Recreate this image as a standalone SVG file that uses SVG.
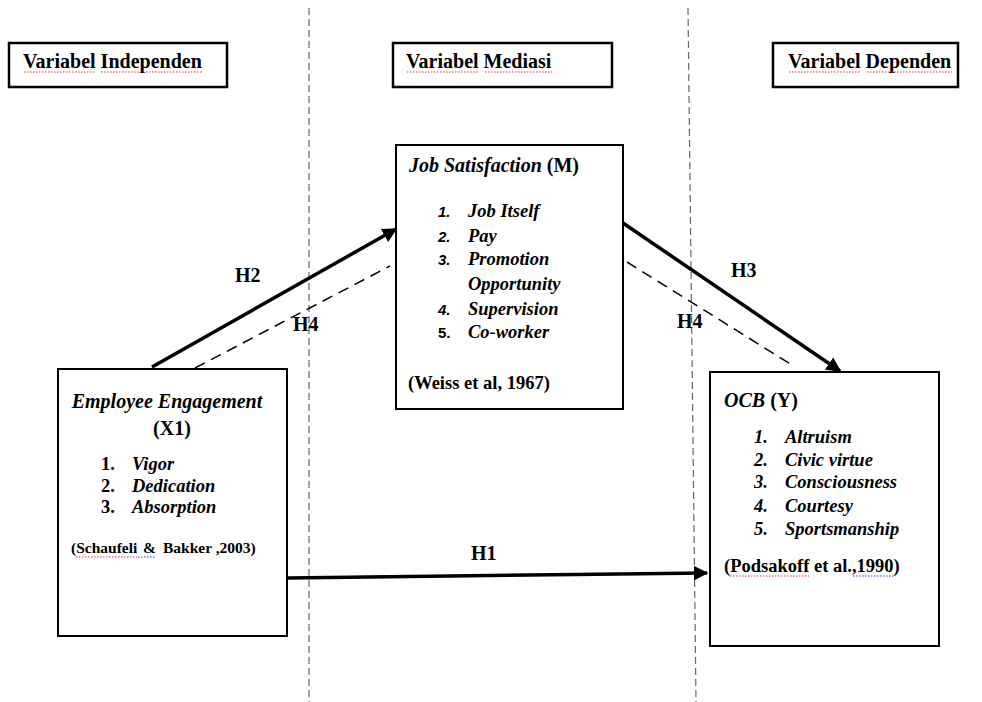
<svg xmlns="http://www.w3.org/2000/svg" width="982" height="702" viewBox="0 0 982 702">
<style>
.t{font-family:"Liberation Serif","Times New Roman",serif;fill:#000;font-weight:bold}
.hd{font-size:20px}
.bd{font-size:18.5px}
.it{font-style:italic}
.box{fill:#fff;stroke:#000;stroke-width:2}
.lbl{fill:#fff;stroke:#000;stroke-width:2.5}
.sep{stroke:#666;stroke-width:1.2;stroke-dasharray:7 4;fill:none}
.solid{stroke:#000;stroke-width:3.5;fill:none}
.dash{stroke:#000;stroke-width:1.5;stroke-dasharray:11 7;fill:none}
.sq{stroke-width:1;stroke-dasharray:1.5 1.5;fill:none}
.red{stroke:#d33}
.blue{stroke:#33c}
.sn{font-family:"Liberation Sans",Arial,sans-serif;font-weight:bold;font-size:15px}
</style>
<defs>
<marker id="ah" viewBox="0 0 10 10" refX="9" refY="5" markerWidth="4.2" markerHeight="4.2" orient="auto" markerUnits="strokeWidth">
<path d="M0,0 L10,5 L0,10 Z" fill="#000"/>
</marker>
</defs>
<rect width="982" height="702" fill="#fff"/>

<g id="separators">
<line class="sep" x1="309" y1="8" x2="309" y2="702"/>
<line class="sep" x1="688" y1="8" x2="696" y2="702"/>
</g>

<g id="label-independen">
<rect class="lbl" x="9" y="43" width="218" height="44"/>
<text class="t hd" x="23" y="68">Variabel Independen</text>
<line class="sq red" x1="24" y1="72" x2="96" y2="72"/>
<line class="sq red" x1="101" y1="72" x2="203" y2="72"/>
</g>
<g id="label-mediasi">
<rect class="lbl" x="393" y="43" width="219" height="44"/>
<text class="t hd" x="406" y="68">Variabel Mediasi</text>
<line class="sq red" x1="407" y1="72" x2="479" y2="72"/>
<line class="sq red" x1="485" y1="72" x2="553" y2="72"/>
</g>
<g id="label-dependen">
<rect class="lbl" x="773" y="43" width="185" height="44"/>
<text class="t hd" x="788" y="68">Variabel Dependen</text>
<line class="sq red" x1="789" y1="72" x2="861" y2="72"/>
<line class="sq red" x1="867" y1="72" x2="952" y2="72"/>
</g>

<g id="connectors">
<line class="solid" x1="152" y1="367" x2="396" y2="229" marker-end="url(#ah)"/>
<line class="dash" x1="195" y1="368" x2="390" y2="266"/>
<line class="solid" x1="623" y1="223" x2="840" y2="371" marker-end="url(#ah)"/>
<line class="dash" x1="627" y1="262" x2="792" y2="365"/>
<line class="solid" x1="288" y1="578" x2="707" y2="573" marker-end="url(#ah)"/>
<text class="t hd" x="235" y="282">H2</text>
<text class="t hd" x="293" y="331">H4</text>
<text class="t hd" x="731" y="277">H3</text>
<text class="t hd" x="677" y="328">H4</text>
<text class="t hd" x="471" y="560">H1</text>
</g>

<g id="node-m">
<rect class="box" x="396" y="145" width="227" height="264"/>
<text class="t hd" x="409" y="172"><tspan class="it">Job Satisfaction</tspan> (M)</text>
<text class="sn it" x="438" y="217">1.</text>
<text class="sn it" x="438" y="242">2.</text>
<text class="sn it" x="438" y="265">3.</text>
<text class="sn it" x="438" y="315">4.</text>
<text class="sn" x="438" y="338">5.</text>
<text class="t bd it" x="468" y="217">Job Itself</text>
<text class="t bd it" x="468" y="242">Pay</text>
<text class="t bd it" x="468" y="265">Promotion</text>
<text class="t bd it" x="468" y="290">Opportunity</text>
<text class="t bd it" x="468" y="315">Supervision</text>
<text class="t bd it" x="468" y="338">Co-worker</text>
<text class="t bd" x="408" y="389">(Weiss et al, 1967)</text>
</g>

<g id="node-x1">
<rect class="box" x="58" y="369" width="229" height="267"/>
<text class="t hd it" x="167" y="408" text-anchor="middle">Employee Engagement</text>
<text class="t hd" x="172" y="435" text-anchor="middle">(X1)</text>
<text class="t bd" x="101" y="470">1.</text>
<text class="t bd" x="101" y="492">2.</text>
<text class="t bd" x="101" y="513">3.</text>
<text class="t bd it" x="132" y="470">Vigor</text>
<text class="t bd it" x="132" y="492">Dedication</text>
<text class="t bd it" x="132" y="513">Absorption</text>
<text class="t" font-size="15.5" x="71" y="553">(Schaufeli<tspan x="143">&amp;</tspan><tspan x="163">Bakker ,2003)</tspan></text>
<line class="sq red" x1="76" y1="557" x2="137" y2="557"/>
<line class="sq blue" x1="138" y1="557" x2="156" y2="557"/>
</g>

<g id="node-y">
<rect class="box" x="710" y="372" width="229" height="274"/>
<text class="t hd" x="724" y="407"><tspan class="it">OCB</tspan> (Y)</text>
<text class="t bd it" x="754" y="443">1.</text>
<text class="t bd it" x="754" y="466">2.</text>
<text class="t bd it" x="754" y="488">3.</text>
<text class="t bd it" x="754" y="512">4.</text>
<text class="t bd it" x="754" y="535">5.</text>
<text class="t bd it" x="785" y="443">Altruism</text>
<text class="t bd it" x="785" y="466">Civic virtue</text>
<text class="t bd it" x="785" y="488">Consciousness</text>
<text class="t bd it" x="785" y="512">Courtesy</text>
<text class="t bd it" x="785" y="535">Sportsmanship</text>
<text class="t bd" x="724" y="572">(Podsakoff et al.,1990)</text>
<line class="sq red" x1="730" y1="576" x2="809" y2="576"/>
<line class="sq blue" x1="853" y1="576" x2="895" y2="576"/>
</g>
</svg>
